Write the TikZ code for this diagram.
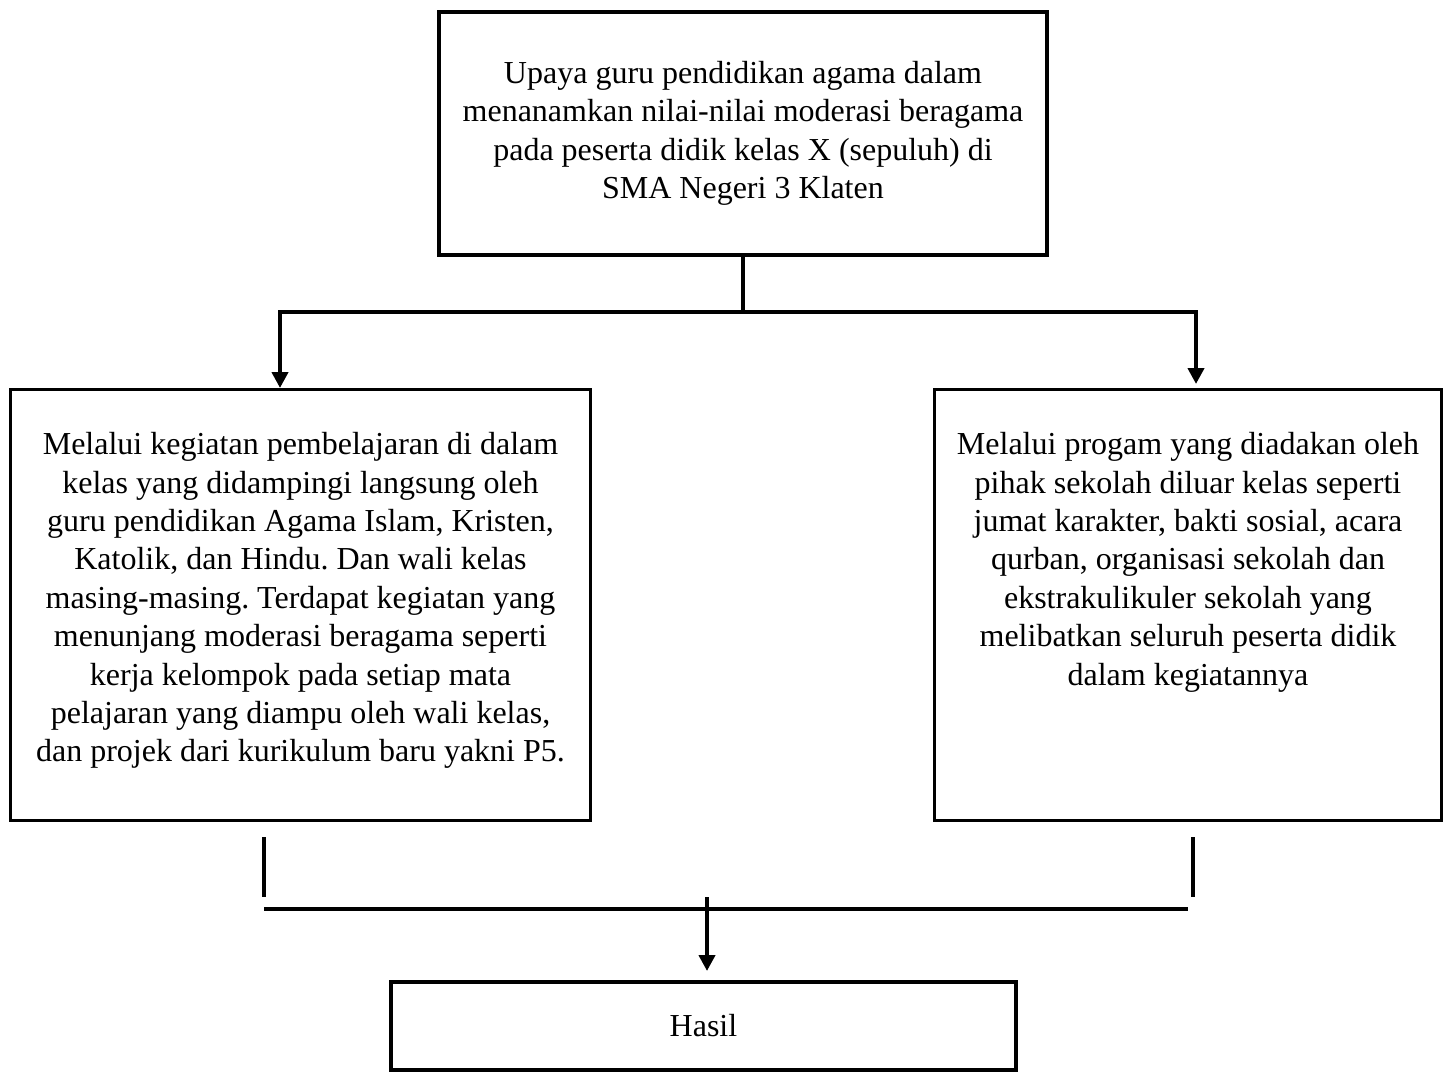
\documentclass[tikz,border=0pt]{standalone}
\usepackage{fontspec}
\setmainfont{Liberation Serif}
\usetikzlibrary{arrows.meta, positioning}
\frenchspacing

\begin{document}
\begin{tikzpicture}[x=0.5pt, y=-0.5pt, font=\fontsize{16}{19.2}\selectfont,
        >={Triangle[width=8pt, length=8pt]},
        thickbox/.style={draw, rectangle, line width=2pt, align=center},
        thinbox/.style={draw, rectangle, line width=1.3pt, minimum height=215.7pt},
        boxtext/.style={align=center, inner sep=0pt},
        link/.style={line width=2pt}]
        \useasboundingbox (0,0) rectangle (1450,1073);

        \node[thickbox, minimum width=304pt, minimum height=121.5pt] (upaya) at (743,133.5) {Upaya guru pendidikan agama dalam\\ menanamkan nilai-nilai moderasi beragama\\ pada peserta didik kelas X (sepuluh) di\\ SMA Negeri 3 Klaten};

        \node[thinbox, minimum width=290.2pt] (kelas) at (300.5,605) {};
        \node[boxtext, below=22pt of kelas.north] (kelastext) {Melalui kegiatan pembelajaran di dalam\\ kelas yang didampingi langsung oleh\\ guru pendidikan Agama Islam, Kristen,\\ Katolik, dan Hindu. Dan wali kelas\\ masing-masing. Terdapat kegiatan yang\\ menunjang moderasi beragama seperti\\ kerja kelompok pada setiap mata\\ pelajaran yang diampu oleh wali kelas,\\ dan projek dari kurikulum baru yakni P5.};
        \node[thinbox, minimum width=253.7pt] (sekolah) at (1188,605) {};
        \node[boxtext, below=22pt of sekolah.north] (sekolahtext) {Melalui progam yang diadakan oleh\\ pihak sekolah diluar kelas seperti\\ jumat karakter, bakti sosial, acara\\ qurban, organisasi sekolah dan\\ ekstrakulikuler sekolah yang\\ melibatkan seluruh peserta didik\\ dalam kegiatannya};

        \node[thickbox, minimum width=312.5pt, minimum height=44pt] (hasil) at (703.5,1026) {Hasil};

        \coordinate (cabangkiri) at (280,312);
        \coordinate (cabangkanan) at (1196,312);
        \draw[link, ->] (upaya.south) |- (cabangkiri) -- (cabangkiri |- kelas.north);
        \draw[link, ->] (upaya.south) |- (cabangkanan) -- ([yshift=2pt]cabangkanan |- sekolah.north);

        \coordinate (kiriatas) at (264,837);
        \coordinate (kananatas) at (1193,837);
        \coordinate (gabungkiri) at (264,909);
        \coordinate (gabungkanan) at (1188,909);
        \coordinate (turun) at (707,897);
        \draw[link] (kiriatas) -- ++(0,60);
        \draw[link] (kananatas) -- ++(0,60);
        \draw[link] (gabungkiri) -- (gabungkanan);
        \draw[link, ->] (turun) -- ([yshift=4.5pt]turun |- hasil.north);
    \end{tikzpicture}
\end{document}
